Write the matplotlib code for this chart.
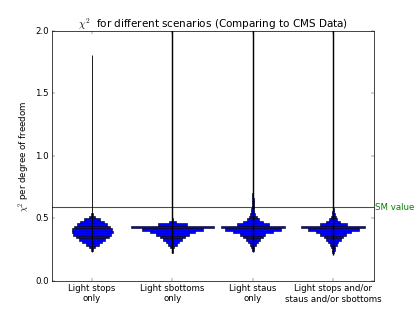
import numpy as np
import matplotlib
matplotlib.use('Agg')
import matplotlib.pyplot as plt

plt.style.use('classic')

# Scenario labels
labels = ['Light stops\nonly', 'Light sbottoms\nonly', 'Light staus\nonly',
          'Light stops and/or\nstaus and/or sbottoms']

# Histogram bins (width 0.02); widths are relative frequencies
bin_width = 0.02
first_bin = [0.24, 0.22, 0.24, 0.22]
hist_stops = [0.03, 0.08, 0.16, 0.25, 0.33, 0.41, 0.47, 0.51, 0.50, 0.45,
              0.38, 0.29, 0.19, 0.08, 0.02]
hist_sbottoms = [0.01, 0.02, 0.05, 0.10, 0.15, 0.23, 0.31, 0.42, 0.56, 0.77,
                 1.03, 0.35, 0.08, 0.02]
hist_staus = [0.02, 0.04, 0.07, 0.12, 0.18, 0.24, 0.31, 0.50, 0.70, 0.79,
              0.39, 0.24, 0.15, 0.10, 0.06, 0.04, 0.035, 0.03, 0.025, 0.02,
              0.02, 0.015, 0.01]
hist_all = [0.02, 0.03, 0.05, 0.09, 0.12, 0.18, 0.24, 0.32, 0.44, 0.64,
            0.80, 0.33, 0.17, 0.10, 0.06, 0.03, 0.02, 0.015]
hists = [hist_stops, hist_sbottoms, hist_staus, hist_all]

# min / max chi2 of each scenario
chi_min = [0.23, 0.22, 0.23, 0.21]
chi_max = [1.81, 2.5, 2.5, 2.5]
spine_lw = [1.2, 2.0, 2.0, 2.0]

sm_value = 0.59

fig = plt.figure(figsize=(8, 6.02), dpi=51.875)
ax = fig.add_subplot(111)

for i, h in enumerate(hists):
    pos = i + 1
    h = np.array(h)
    bottoms = first_bin[i] + bin_width * np.arange(len(h))
    ax.barh(bottoms, h, height=bin_width, left=pos - h / 2.0, align='edge',
            color='b', edgecolor='k', linewidth=0.8, zorder=2)
    ax.vlines(pos, chi_min[i], chi_max[i], color='k', linewidth=spine_lw[i], zorder=3)

ax.axhline(sm_value, color='g', linewidth=1.5, zorder=1)
ax.text(4.52, sm_value, 'SM value', color='g', va='center', ha='left', fontsize=12)

ax.set_xlim(0.5, 4.5)
ax.set_ylim(0, 2.0)
ax.set_xticks([1, 2, 3, 4])
ax.set_xticklabels(labels, fontsize=12)
ax.set_yticks([0.0, 0.5, 1.0, 1.5, 2.0])
ax.set_ylabel(r'$\chi^2$ per degree of freedom')
ax.set_title(r'$\chi^2$  for different scenarios (Comparing to CMS Data)')

fig.savefig('out.png', dpi=51.875)
